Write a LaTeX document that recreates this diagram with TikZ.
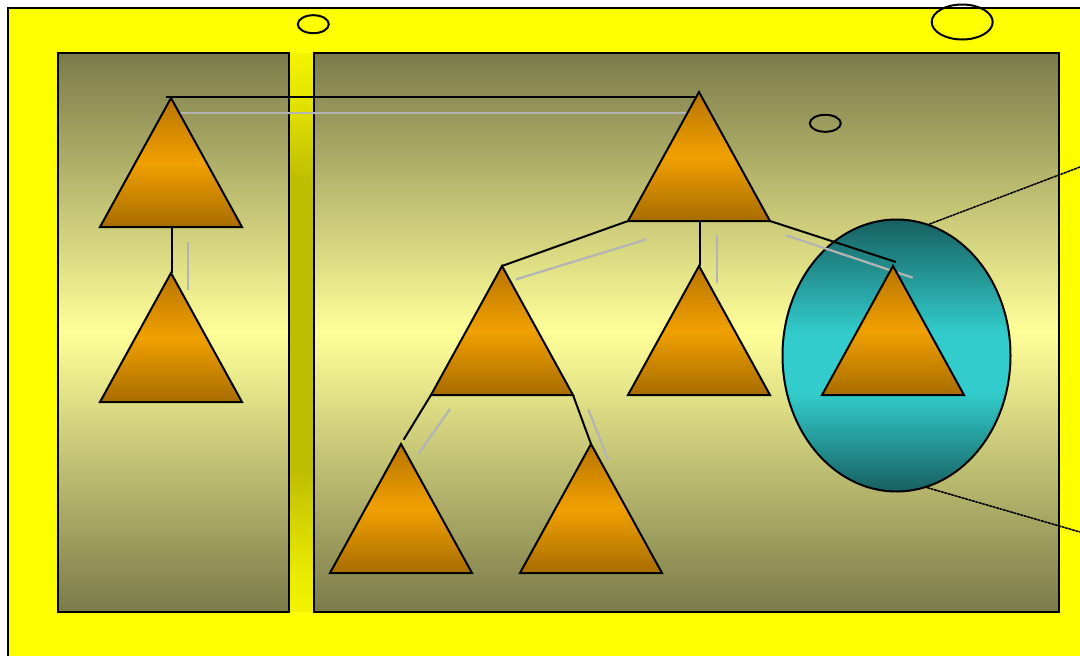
\documentclass[tikz,border=0pt]{standalone}
\usetikzlibrary{shapes.geometric,calc}
\definecolor{yel}{RGB}{255,255,0}
\definecolor{olv}{HTML}{7B7B4A}
\definecolor{pale}{HTML}{FFFF99}
\definecolor{ybot}{HTML}{F2F200}
\definecolor{ybot2}{HTML}{ECEC00}
\definecolor{ybar}{HTML}{BEBE00}
\definecolor{ytop2}{HTML}{E4E400}
\definecolor{ytop}{HTML}{F4F400}
\definecolor{otop}{HTML}{B87400}
\definecolor{omid}{HTML}{F0A000}
\definecolor{obot}{HTML}{A86C00}
\definecolor{tdark}{HTML}{176060}
\definecolor{tlight}{HTML}{33CCCC}
\definecolor{gline}{HTML}{B4B4B4}
\pgfdeclareverticalshading{barshade}{100bp}{color(0bp)=(ybot); color(25bp)=(ybot); color(28bp)=(ybot2); color(37.6bp)=(ybar); color(63.6bp)=(ybar); color(70.8bp)=(ytop2); color(75bp)=(ytop); color(100bp)=(ytop)}
\pgfdeclareverticalshading{tealshade}{100bp}{color(0bp)=(tdark); color(25bp)=(tdark); color(43bp)=(tlight); color(54bp)=(tlight); color(75bp)=(tdark); color(100bp)=(tdark)}
\tikzset{
  panel/.style={draw=black, line width=2pt, top color=olv, bottom color=olv, middle color=pale},
  trishade/.style={draw=black, line width=2pt, line join=miter, top color=otop, bottom color=obot, middle color=omid},
  conn/.style={draw=black, line width=2pt},
  gconn/.style={draw=gline, line width=2.2pt},
  smallell/.style={ellipse, draw=black, line width=2pt, inner sep=0pt},
  zoomline/.style={draw=black, line width=1.5pt, dash pattern=on 3pt off 0.6pt}
}
\newcommand\mytri[3]{%
  \coordinate (#1-a) at (#2,#3);
  \coordinate (#1-l) at ($(#2,#3)+(-71,129)$);
  \coordinate (#1-r) at ($(#2,#3)+(71,129)$);
  \coordinate (#1-b) at ($(#2,#3)+(0,129)$);
}
\newcommand\drawtri[1]{\path[trishade] (#1-a) -- (#1-r) -- (#1-l) -- cycle;}
\begin{document}
\begin{tikzpicture}[x=1pt,y=-1pt]
\useasboundingbox (0,0) rectangle (1080,656);
% background
\path[fill=yel, draw=black, line width=1.3pt] (8,8) rectangle (1095,670);
% bar
\path[shading=barshade] (289,53) rectangle (314,611);
% panels
\path[panel] (58,53) rectangle (288.5,611.5);
\path[panel] (314,53) rectangle (1059,611.5);
% small ellipses
\node[smallell, minimum width=31pt, minimum height=18pt] (e1) at (313.3,24.2) {};
\node[smallell, minimum width=61pt, minimum height=35pt] (e2) at (962.2,22) {};
\node[smallell, minimum width=31pt, minimum height=17pt] (e3) at (825.3,123.3) {};
% teal ellipse
\node[ellipse, draw=black, line width=2pt, inner sep=0pt, minimum width=228pt, minimum height=272pt,
  shading=tealshade] (circ) at (896.5,355.5) {};
% zoom lines
\coordinate (z1) at (1080,167);
\coordinate (z2) at (1080,532);
\draw[zoomline] (circ.76) -- (z1);
\draw[zoomline] (circ.-77) -- (z2);
% triangle coordinates
\mytri{T1}{171}{98}
\mytri{T2}{171}{273}
\mytri{T3}{699}{92}
\mytri{T4}{502}{266}
\mytri{T5}{699}{266}
\mytri{T6}{893}{266}
\mytri{T7}{401}{444}
\mytri{T8}{591}{444}
% black connectors
\coordinate (T1-top) at (166,97);
\draw[conn] (T1-top) -- (T1-top -| T3-a);
\draw[conn] ([xshift=1pt]T1-b) -- ([xshift=1pt]T2-a);
\draw[conn] (T3-l) -- (T4-a);
\draw[conn] ([xshift=1pt]T3-b) -- ([xshift=1pt]T5-a);
\draw[conn] (T3-r) -- ([shift={(3,-4)}]T6-a);
\draw[conn, shorten >=5pt] (T4-l) -- (T7-a);
\draw[conn] (T4-r) -- (T8-a);
% grey offset lines
\coordinate (g1a) at (175,113.3); \coordinate (g1b) at (690,113.3);
\coordinate (g2a) at (188.3,241.7); \coordinate (g2b) at (188.3,290);
\coordinate (g3a) at (646.7,239.3); \coordinate (g3b) at (516,279.3);
\coordinate (g4a) at (716.7,235); \coordinate (g4b) at (716.7,283.3);
\coordinate (g5a) at (786,235.3); \coordinate (g5b) at (912.7,277.7);
\coordinate (g6a) at (450,409); \coordinate (g6b) at (418.3,454);
\coordinate (g7a) at (588.3,409.3); \coordinate (g7b) at (608.3,460);
\draw[gconn] (g1a) -- (g1b);
\draw[gconn] (g2a) -- (g2b);
\draw[gconn] (g3a) -- (g3b);
\draw[gconn] (g4a) -- (g4b);
\draw[gconn] (g5a) -- (g5b);
\draw[gconn] (g6a) -- (g6b);
\draw[gconn] (g7a) -- (g7b);
% triangles
\drawtri{T1}
\drawtri{T2}
\drawtri{T3}
\drawtri{T4}
\drawtri{T5}
\drawtri{T6}
\drawtri{T7}
\drawtri{T8}
\end{tikzpicture}
\end{document}
